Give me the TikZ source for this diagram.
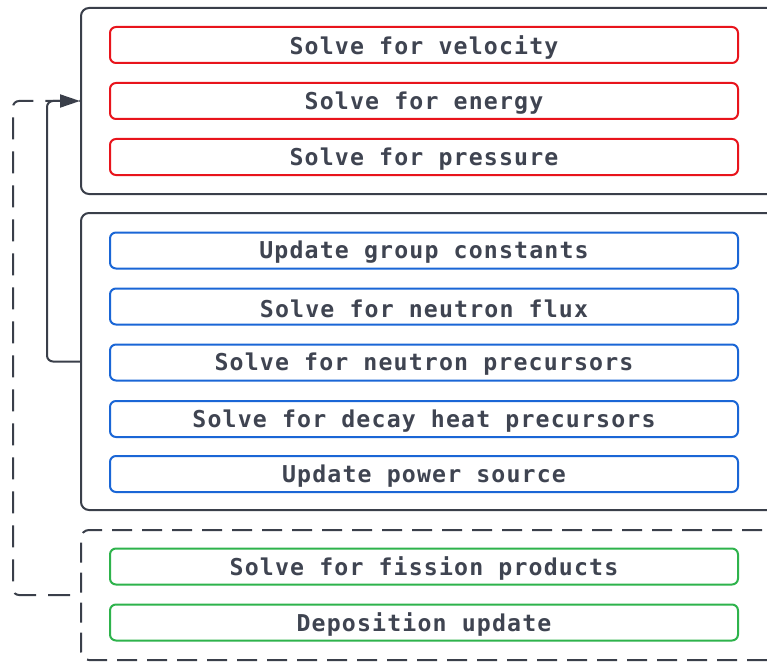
\documentclass[tikz,border=0pt]{standalone}
\usepackage{fontspec}
\setmonofont[LetterSpace=5]{DejaVu Sans Mono}
\usetikzlibrary{arrows.meta}
\definecolor{frame}{HTML}{3A3F4A}
\definecolor{txt}{HTML}{3F4451}
\definecolor{redc}{HTML}{E8141C}
\definecolor{bluec}{HTML}{1A66D6}
\definecolor{greenc}{HTML}{2EB34C}
\tikzset{
  group/.style={draw=frame, line width=2pt, rounded corners=8pt, fill=white, inner sep=0pt, minimum width=719pt},
  stepbox/.style={draw=#1, line width=2pt, rounded corners=6pt, fill=white, minimum width=628pt, minimum height=36pt, inner sep=0pt},
  steptext/.style={yshift=-2pt, text=txt, font=\ttfamily\bfseries\fontsize{23.2}{23.2}\selectfont, inner sep=0pt},
  dashline/.style={dash pattern=on 22pt off 12pt},
  link/.style={draw=frame, line width=2pt, rounded corners=6pt},
}
\newcommand{\mystep}[4]{\node[stepbox=#1] (#2) at #3 {}; \node[steptext] (#2t) at (#2.center) {#4};}
\begin{document}
\begin{tikzpicture}[x=1pt,y=-1pt]
\useasboundingbox (0,0) rectangle (767,663);
\clip (0,0) rectangle (767,663);
% groups
\node[group, minimum height=186pt] (g1) at (440.5,101) {};
\node[group, minimum height=297pt] (g2) at (440.5,361.5) {};
\node[group, dash pattern=on 20pt off 10pt, minimum height=130pt] (g3) at (440.5,595) {};
% red steps
\mystep{redc}{r1}{(424,45)}{Solve for velocity}
\mystep{redc}{r2}{(424,101)}{Solve for energy}
\mystep{redc}{r3}{(424,157)}{Solve for pressure}
% blue steps
\mystep{bluec}{b1}{(424,250.5)}{Update group constants}
\mystep{bluec}{b2}{(424,306.5)}{Solve for neutron flux}
\mystep{bluec}{b3}{(424,362.5)}{Solve for neutron precursors}
\mystep{bluec}{b4}{(424,419)}{Solve for decay heat precursors}
\mystep{bluec}{b5}{(424,474)}{Update power source}
% green steps
\mystep{greenc}{e1}{(424,566.5)}{Solve for fission products}
\mystep{greenc}{e2}{(424,622.5)}{Deposition update}
% connectors
\coordinate (dl) at (13,0);
\coordinate (sl) at (47,0);
\draw[link, dashline, dash phase=24pt] (g3.west) -- (g3.west -| dl) -- (g1.west -| dl) -- (g1.west);
\draw[link, -{Triangle[length=20pt,width=13pt]}] (g2.west) -- (g2.west -| sl) -- (g1.west -| sl) -- (g1.west);
\end{tikzpicture}
\end{document}
